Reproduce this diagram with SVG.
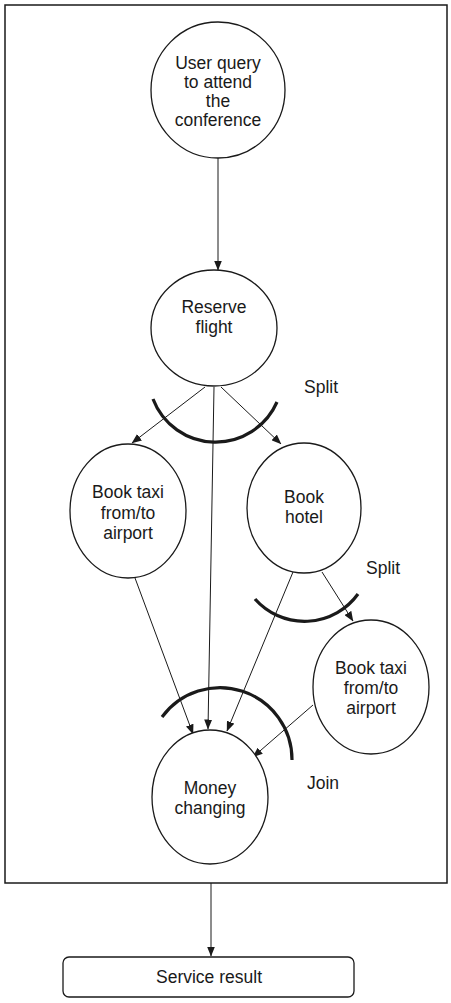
<svg xmlns="http://www.w3.org/2000/svg" width="451" height="1003" viewBox="0 0 451 1003">
<style>
.node{fill:#fff;stroke:#1a1a1a;stroke-width:1.3}
.t{font-family:"Liberation Sans",Arial,sans-serif;font-size:17.5px;fill:#1a1a1a;text-anchor:middle}
.lbl{font-family:"Liberation Sans",Arial,sans-serif;font-size:17.5px;fill:#1a1a1a}
.c{fill:none;stroke:#1a1a1a;stroke-width:1}
.arc{fill:none;stroke:#1a1a1a;stroke-width:3.2}
</style>
<defs>
<marker id="ah" markerUnits="userSpaceOnUse" markerWidth="10" markerHeight="8" refX="9.5" refY="4" orient="auto">
<path d="M0,0 L10,4 L0,8 z" fill="#1a1a1a"/>
</marker>
</defs>
<rect x="0" y="0" width="451" height="1003" fill="#fff"/>
<rect id="boundary" x="5" y="5" width="442" height="878" fill="none" stroke="#1a1a1a" stroke-width="1.5"/>
<g id="connectors">
<line class="c" x1="218" y1="158" x2="218" y2="270" marker-end="url(#ah)"/>
<line class="c" x1="205" y1="387" x2="132" y2="443" marker-end="url(#ah)"/>
<line class="c" x1="221" y1="387" x2="281" y2="444" marker-end="url(#ah)"/>
<line class="c" x1="214" y1="387" x2="208" y2="729" marker-end="url(#ah)"/>
<line class="c" x1="135" y1="578" x2="193" y2="734" marker-end="url(#ah)"/>
<line class="c" x1="293" y1="572" x2="227" y2="731" marker-end="url(#ah)"/>
<line class="c" x1="322" y1="572" x2="353" y2="621" marker-end="url(#ah)"/>
<line class="c" x1="313" y1="705" x2="253" y2="757" marker-end="url(#ah)"/>
<line class="c" x1="211" y1="883" x2="211" y2="956" marker-end="url(#ah)"/>
</g>
<g id="split1">
<path class="arc" d="M153,399 A67,67 0 0 0 277,402"/>
<text class="lbl" x="304" y="393">Split</text>
</g>
<g id="split2">
<path class="arc" d="M255,599 A66,66 0 0 0 358,594"/>
<text class="lbl" x="366" y="574">Split</text>
</g>
<g id="join">
<path class="arc" d="M162,717 A72,72 0 0 1 292,760"/>
<text class="lbl" x="307" y="789">Join</text>
</g>
<g id="user-query">
<ellipse class="node" cx="218" cy="90" rx="67" ry="68"/>
<text class="t" x="218" y="69">User query</text>
<text class="t" x="218" y="88">to attend</text>
<text class="t" x="218" y="107">the</text>
<text class="t" x="218" y="126">conference</text>
</g>
<g id="reserve-flight">
<ellipse class="node" cx="214" cy="328" rx="63" ry="58"/>
<text class="t" x="214" y="313">Reserve</text>
<text class="t" x="214" y="333">flight</text>
</g>
<g id="book-taxi-1">
<ellipse class="node" cx="128" cy="511" rx="58" ry="67"/>
<text class="t" x="128" y="498">Book taxi</text>
<text class="t" x="128" y="519">from/to</text>
<text class="t" x="128" y="539">airport</text>
</g>
<g id="book-hotel">
<ellipse class="node" cx="304" cy="508" rx="57" ry="65"/>
<text class="t" x="304" y="503">Book</text>
<text class="t" x="304" y="523">hotel</text>
</g>
<g id="book-taxi-2">
<ellipse class="node" cx="371" cy="687" rx="58" ry="67"/>
<text class="t" x="371" y="674">Book taxi</text>
<text class="t" x="371" y="694">from/to</text>
<text class="t" x="371" y="714">airport</text>
</g>
<g id="money-changing">
<ellipse class="node" cx="210" cy="797" rx="58" ry="67"/>
<text class="t" x="210" y="794">Money</text>
<text class="t" x="210" y="814">changing</text>
</g>
<g id="service-result">
<rect class="node" x="63" y="957" width="291" height="40" rx="6"/>
<text class="t" x="209" y="983">Service result</text>
</g>
</svg>
